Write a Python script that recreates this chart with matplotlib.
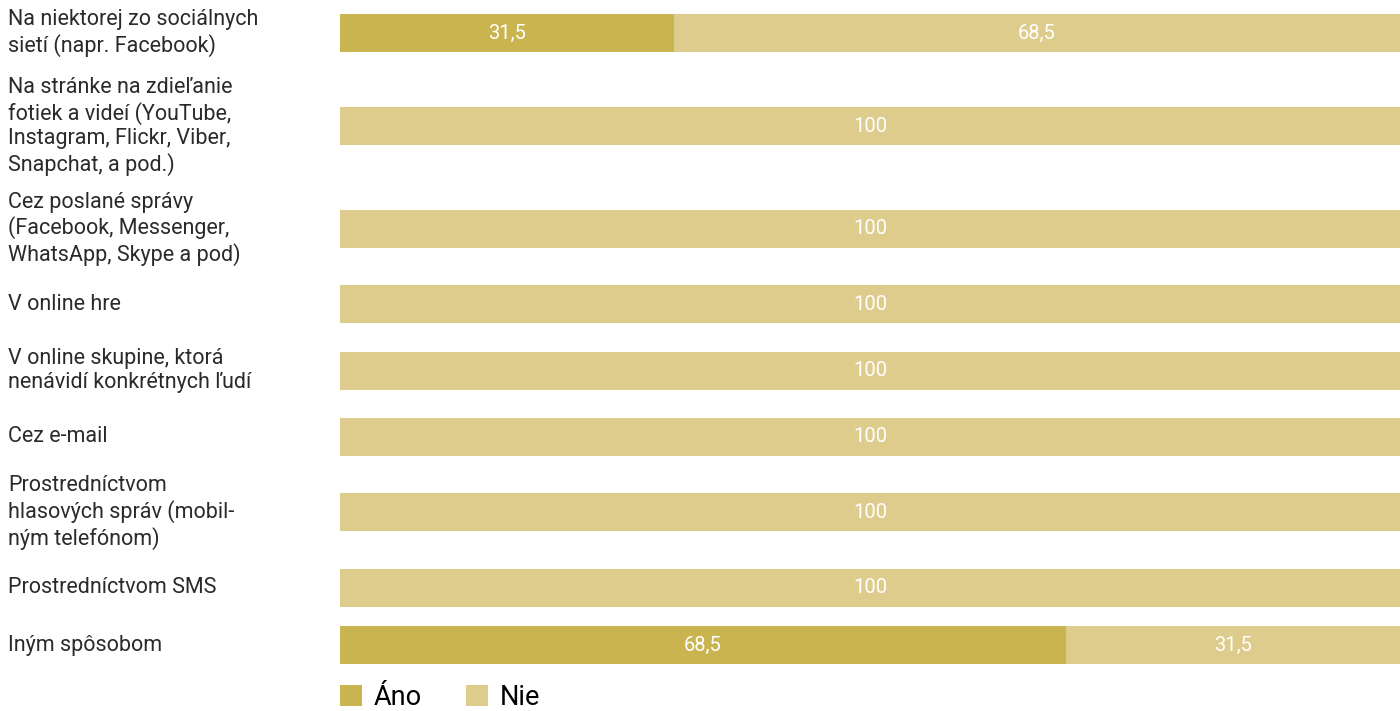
import numpy as np
import matplotlib
matplotlib.use("Agg")
import matplotlib.pyplot as plt
from matplotlib.patches import Patch

plt.rcParams['font.family'] = ['Roboto', 'DejaVu Sans']

# Survey answers, share of respondents in %
categories = [
    "Na niektorej zo sociálnych\nsietí (napr. Facebook)",
    "Na stránke na zdieľanie\nfotiek a videí (YouTube,\nInstagram, Flickr, Viber,\nSnapchat, a pod.)",
    "Cez poslané správy\n(Facebook, Messenger,\nWhatsApp, Skype a pod)",
    "V online hre",
    "V online skupine, ktorá\nnenávidí konkrétnych ľudí",
    "Cez e-mail",
    "Prostredníctvom\nhlasových správ (mobil-\nným telefónom)",
    "Prostredníctvom SMS",
    "Iným spôsobom",
]
ano = [31.5, 0, 0, 0, 0, 0, 0, 0, 68.5]
nie = [68.5, 100, 100, 100, 100, 100, 100, 100, 31.5]
series_names = ["Áno", "Nie"]

col_ano = "#cab44f"
col_nie = "#ddcc8c"

W, H = 1400, 711
fig = plt.figure(figsize=(W / 100, H / 100), dpi=100)
ax = fig.add_axes([340 / W, 0, 1 - 340 / W, 1])
ax.set_xlim(0, 100)
ax.set_ylim(H, 0)
ax.axis("off")

# row layout in pixels: each row slot grows with the number of label lines
bar_h = 38
n_lines = [c.count("\n") + 1 for c in categories]
slots = [18 * n + 39.4 for n in n_lines]
centers = []
y = 14 + bar_h / 2
for i, s in enumerate(slots):
    if i > 0:
        y += (slots[i - 1] + s) / 2
    centers.append(y)

ax.barh(centers, ano, height=bar_h, color=col_ano, linewidth=0)
ax.barh(centers, nie, left=ano, height=bar_h, color=col_nie, linewidth=0)


def fmt(v):
    return f"{v:g}".replace(".", ",")


for yc, a, n, lab in zip(centers, ano, nie, categories):
    if a > 0:
        ax.text(a / 2, yc, fmt(a), ha="center", va="center",
                color="white", fontsize=14.5)
    if n > 0:
        ax.text(a + n / 2, yc, fmt(n), ha="center", va="center",
                color="white", fontsize=14.5)
    fig.text(8 / W, 1 - yc / H, lab, ha="left", va="center",
             fontsize=15.5, color="#2a2a2a", linespacing=1.21)

handles = [Patch(facecolor=col_ano, edgecolor="none"),
           Patch(facecolor=col_nie, edgecolor="none")]
ax.legend(handles, series_names, loc="lower left", bbox_to_anchor=(0, 0.0),
          ncol=2, frameon=False, fontsize=19.5, handlelength=0.81,
          handleheight=0.81, handletextpad=0.44, columnspacing=1.63,
          borderpad=0, borderaxespad=0)

fig.savefig("out.png", dpi=100)
